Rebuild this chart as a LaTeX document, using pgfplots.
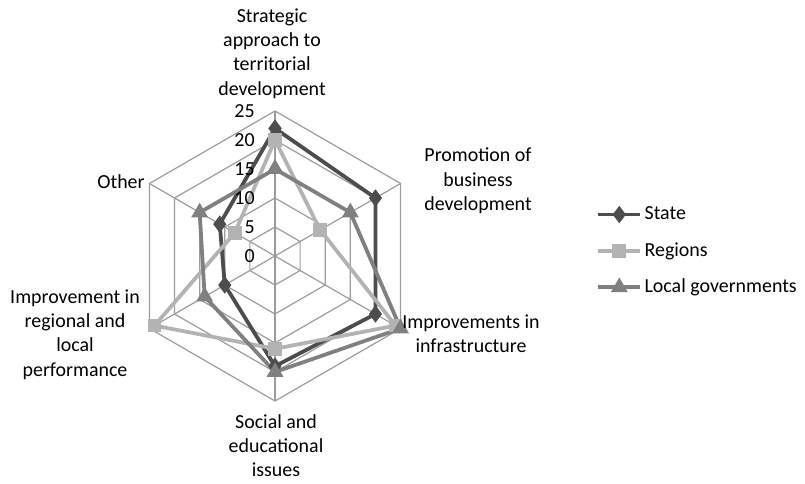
\documentclass[border=0pt]{standalone}
\usepackage{fontspec}
\setmainfont{Carlito}
\usepackage{pgfplots}
\pgfplotsset{compat=1.18}
\usepgfplotslibrary{polar}
\definecolor{cState}{HTML}{4D4D4D}
\definecolor{cReg}{HTML}{B3B3B3}
\definecolor{cLoc}{HTML}{808080}
\definecolor{cGrid}{HTML}{9C9C9C}
\begin{document}
\begin{tikzpicture}[font=\fontsize{10}{12.2}\selectfont]
\path[use as bounding box] (0bp,0bp) rectangle (402.5bp,242bp);
\begin{polaraxis}[
  at={(137.5bp,114bp)}, anchor=center,
  scale only axis, width=145bp, height=145bp,
  ymin=0, ymax=25, hide axis, clip=false,
  legend style={at={(1.607,0.68)}, anchor=north west, draw=none, fill=none,
    row sep=7.5bp, font=\fontsize{10}{12.2}\selectfont, inner sep=0pt,
    nodes={inner sep=1.2bp}},
  legend cell align=left,
  legend image code/.code={\draw[mark repeat=2,mark phase=2]
    plot coordinates {(0bp,0bp)(10.5bp,0bp)(21bp,0bp)};},
]
\pgfplotsinvokeforeach{5,10,15,20,25}{
  \addplot[cGrid, line width=0.6pt, forget plot] coordinates
    {(90,#1) (30,#1) (-30,#1) (-90,#1) (-150,#1) (150,#1) (90,#1)};
}
\pgfplotsinvokeforeach{90,30,-30,-90,-150,150}{
  \addplot[cGrid, line width=0.6pt, forget plot] coordinates {(#1,0) (#1,25)};
}
\addplot[cState, line width=1.9pt, mark=diamond*, mark size=2.8pt,
  mark options={solid, fill=cState}] coordinates
  {(90,22) (30,20) (-30,20) (-90,19) (-150,10) (150,11) (90,22)};
\addlegendentry{State}
\addplot[cReg, line width=1.9pt, mark=square*, mark size=2.5pt,
  mark options={solid, fill=cReg}] coordinates
  {(90,20) (30,9) (-30,24) (-90,16) (-150,24) (150,8) (90,20)};
\addlegendentry{Regions}
\addplot[cLoc, line width=1.9pt, mark=triangle*, mark size=3pt,
  mark options={solid, fill=cLoc}] coordinates
  {(90,15) (30,15) (-30,25) (-90,20) (-150,14) (150,15) (90,15)};
\addlegendentry{Local governments}
\pgfplotsinvokeforeach{0,5,10,15,20,25}{
  \node[anchor=east, inner sep=0pt, xshift=-10bp] at (axis cs:90,#1) {#1};
}
\end{polaraxis}
\node[align=center, inner sep=0pt] at (136bp,215.25bp) {Strategic\\approach to\\territorial\\development};
\node[align=center, inner sep=0pt] at (239bp,151.5bp) {Promotion of\\business\\development};
\node[align=center, inner sep=0pt] at (235.5bp,75bp) {Improvements in\\infrastructure};
\node[align=center, inner sep=0pt] at (138bp,19.25bp) {Social and\\educational\\issues};
\node[align=center, inner sep=0pt] at (37.5bp,74.75bp) {Improvement in\\regional and\\local\\performance};
\node[align=center, inner sep=0pt] at (60.5bp,151bp) {Other};
\end{tikzpicture}
\end{document}
